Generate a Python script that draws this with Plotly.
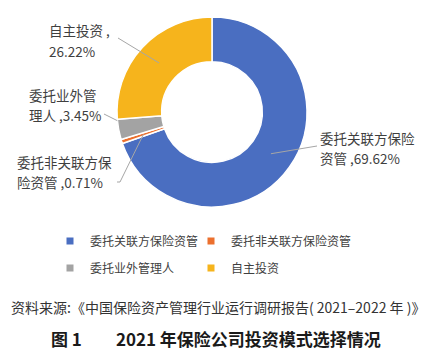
import math
import plotly.graph_objects as go

# ---- data ----
labels = ["委托关联方保险资管", "委托非关联方保险资管", "委托业外管理人", "自主投资"]
values = [69.62, 0.71, 3.45, 26.22]
colors = ["#4A6EC1", "#EC702E", "#A3A3A3", "#F6B41C"]
wrap_at = [7, 7, 5, 6]          # character where each outside label wraps
source_text = "资料来源:《中国保险资产管理行业运行调研报告( 2021–2022 年 )》"
title_text = "图 1　　2021 年保险公司投资模式选择情况"

# ---- layout constants (pixels) ----
W, H = 443, 355
CX, CY, R = 212, 112, 95
HOLE = 0.53
FONT = "Noto Sans CJK SC"

def px(x):
    return x / W

def py(y):
    return 1 - y / H

fig = go.Figure()
fig.add_trace(go.Pie(
    labels=labels, values=values, hole=HOLE, sort=False, direction="clockwise",
    rotation=0, marker=dict(colors=colors, line=dict(color="white", width=1.5)),
    textinfo="none", hoverinfo="label+percent", showlegend=False,
    domain=dict(x=[px(CX - R), px(CX + R)], y=[py(CY + R), py(CY - R)]),
))

# legend entries: one small legend per entry, arranged in a 2x2 grid
legend_pos = [(50, 241), (191, 241), (50, 268), (191, 268)]
legend_names = ["legend", "legend2", "legend3", "legend4"]
for i, (lab, col) in enumerate(zip(labels, colors)):
    fig.add_trace(go.Scatter(
        x=[None], y=[None], mode="markers", name=lab,
        marker=dict(symbol="square", size=7, color=col),
        legend=legend_names[i],
    ))

# outside labels + leader lines
# (text x, line-1 y, line-2 y, tail x, tail y, elbow x, angle frac in slice, radius frac)
placements = [
    (318, 138, 158, 317, 146, 317, 0.5, 0.76),
    (15, 162, 182, 117, 182, 120, 0.5, 0.76),
    (27, 95, 115, 104, 114, 104, 0.93, 1.0),
    (47, 30, 51, 118, 38, 118, 0.5, 0.76),
]
total = sum(values)
cum = 0.0
annotations = []
shapes = []
for i, v in enumerate(values):
    tx, y1, y2, lx, ly, ex, frac, rf = placements[i]
    a_deg = (cum + v * frac) / total * 360.0  # clockwise from top
    cum += v
    th = math.radians(90 - a_deg)
    hx = CX + R * rf * math.cos(th)
    hy = CY - R * rf * math.sin(th)
    txt = f"{labels[i]} ,{values[i]:.2f}%"
    for line, yy in ((txt[:wrap_at[i]], y1), (txt[wrap_at[i]:], y2)):
        annotations.append(dict(
            x=px(tx), y=py(yy), xref="paper", yref="paper", xanchor="left", yanchor="middle",
            text=line, showarrow=False, align="left",
            font=dict(family=FONT, size=13.5, color="#3F3F3F"),
        ))
    shapes.append(dict(type="path", xref="paper", yref="paper",
                       path=f"M {px(lx)},{py(ly)} L {px(ex)},{py(ly)} L {px(hx)},{py(hy)}",
                       line=dict(color="#A6A6A6", width=1)))

annotations.append(dict(
    x=px(218), y=py(307), xref="paper", yref="paper", xanchor="center", yanchor="middle",
    text=source_text, showarrow=False, font=dict(family=FONT, size=14, color="#333333"),
))
annotations.append(dict(
    x=px(216), y=py(338), xref="paper", yref="paper", xanchor="center", yanchor="middle",
    text=f"<b>{title_text}</b>", showarrow=False, font=dict(family=FONT, size=17, color="#1A1A1A"),
))

legend_common = dict(orientation="v", xanchor="left", yanchor="middle",
                     font=dict(family=FONT, size=12, color="#3F3F3F"),
                     bgcolor="rgba(0,0,0,0)", itemclick=False, itemdoubleclick=False)
legend_layout = {}
for name, (lx, ly) in zip(legend_names, legend_pos):
    legend_layout[name] = dict(x=px(lx), y=py(ly), **legend_common)

fig.update_layout(
    width=W, height=H, margin=dict(l=0, r=0, t=0, b=0),
    paper_bgcolor="white", plot_bgcolor="white",
    xaxis=dict(visible=False), yaxis=dict(visible=False),
    annotations=annotations, shapes=shapes,
    **legend_layout,
)

fig.write_html("out.html")
